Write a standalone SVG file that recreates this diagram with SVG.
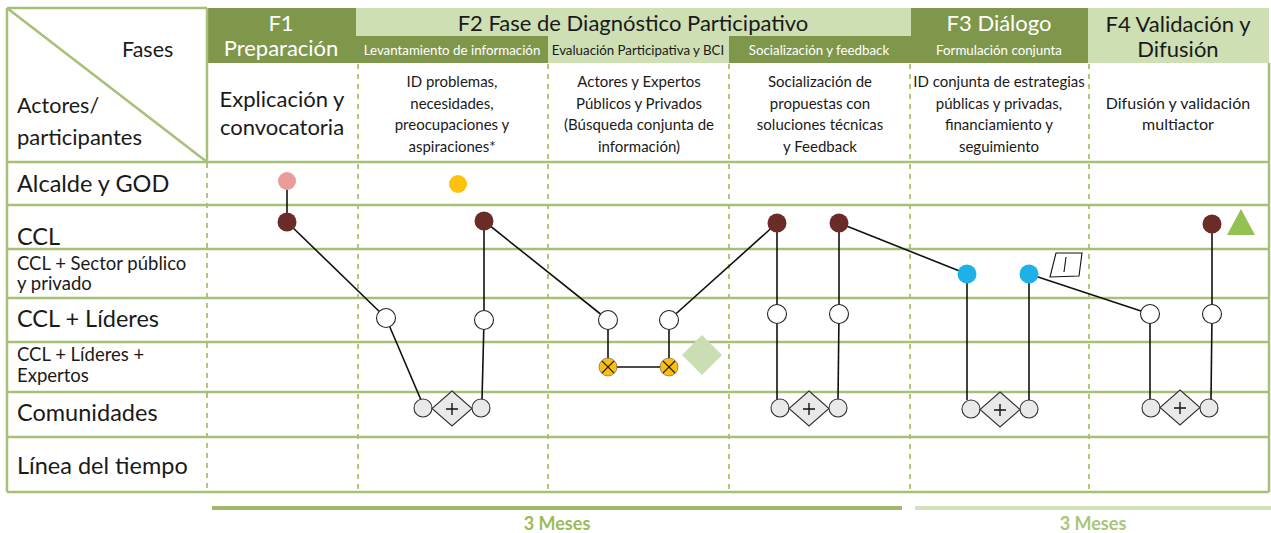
<svg xmlns="http://www.w3.org/2000/svg" width="1271" height="533" viewBox="0 0 1271 533">
<style>
text{font-family:Lato,"Open Sans","Liberation Sans",sans-serif;fill:#1a1a1a}
.grid{stroke:#a6c077;stroke-width:2.5;fill:none}
.dash{stroke:#9bbb59;stroke-width:1.6;stroke-dasharray:5 5;fill:none}
.dark{fill:#7f974b}
.light{fill:#cddfb3}
.wt{fill:#ffffff}
.ttl{font-size:22px;text-anchor:middle}
.sub{font-size:13.3px;text-anchor:middle}
.desc{font-size:15px;text-anchor:middle}
.row{font-size:23.5px}
.rows{font-size:18.5px}
.con line{stroke:#111;stroke-width:1.6}
.wc{fill:#fff;stroke:#222;stroke-width:1.1}
.gc{fill:#e9e9e9;stroke:#333;stroke-width:1.1}
.gd{fill:#e9e9e9;stroke:#333;stroke-width:1.1}
.pl{stroke:#111;stroke-width:1.4}
.dr{fill:#6b2c28}
.bl{fill:#1eb1e7}
.yc{fill:#fcbf10;stroke:#555;stroke-width:0.6}
.meses{font-size:18px;font-weight:bold;text-anchor:middle;fill:#9bbb59}
</style>

<!-- header fills -->
<g id="h-f1"><rect class="dark" x="207" y="8" width="149" height="55"/>
<text class="ttl wt" x="281" y="31">F1</text><text class="ttl wt" x="281" y="56">Preparación</text></g>
<g id="h-f2"><rect class="light" x="356" y="8" width="555" height="28"/>
<text class="ttl" x="633" y="31">F2 Fase de Diagnóstico Participativo</text></g>
<g id="h-lev"><rect class="dark" x="356" y="36" width="192" height="27"/><text class="sub wt" x="452" y="55">Levantamiento de información</text></g>
<g id="h-eval"><rect class="light" x="548" y="36" width="181" height="27"/><text class="sub" x="638" y="55">Evaluación Participativa y BCI</text></g>
<g id="h-soc"><rect class="dark" x="729" y="36" width="182" height="27"/><text class="sub wt" x="819" y="55">Socialización y feedback</text></g>
<g id="h-f3"><rect class="dark" x="911" y="8" width="177" height="55"/>
<text class="ttl wt" x="999" y="31">F3 Diálogo</text><text class="sub wt" x="999" y="55">Formulación conjunta</text></g>
<g id="h-f4"><rect class="light" x="1088" y="8" width="181" height="55"/>
<text class="ttl" x="1178" y="32">F4 Validación y</text><text class="ttl" x="1178" y="57">Difusión</text></g>

<!-- grid -->
<g id="grid">
<line class="dash" x1="358" y1="64" x2="358" y2="492"/>
<line class="dash" x1="548" y1="64" x2="548" y2="492"/>
<line class="dash" x1="729" y1="64" x2="729" y2="492"/>
<line class="dash" x1="910" y1="64" x2="910" y2="492"/>
<line class="dash" x1="1089" y1="64" x2="1089" y2="492"/>
<line class="dash" x1="207" y1="163" x2="207" y2="492"/>
<line class="grid" x1="7" y1="8" x2="207" y2="8"/>
<line class="grid" x1="207" y1="8" x2="207" y2="162"/>
<line class="grid" x1="7" y1="8" x2="207" y2="162"/>
<line class="grid" x1="7" y1="8" x2="7" y2="492"/>
<line class="grid" x1="1269" y1="63" x2="1269" y2="492"/>
<line class="grid" x1="7" y1="162" x2="1269" y2="162"/>
<line class="grid" x1="7" y1="205" x2="1269" y2="205"/>
<line class="grid" x1="7" y1="249" x2="1269" y2="249"/>
<line class="grid" x1="7" y1="298" x2="1269" y2="298"/>
<line class="grid" x1="7" y1="342" x2="1269" y2="342"/>
<line class="grid" x1="7" y1="392" x2="1269" y2="392"/>
<line class="grid" x1="7" y1="437" x2="1269" y2="437"/>
<line class="grid" x1="7" y1="492" x2="1269" y2="492"/>
</g>

<!-- corner cell -->
<g id="corner">
<text style="font-size:21.5px" x="122" y="57">Fases</text>
<text style="font-size:21.5px" x="17" y="113">Actores/</text>
<text style="font-size:22px" x="17" y="145">participantes</text>
</g>

<!-- descriptions -->
<g id="d-f1"><text class="ttl" x="282" y="107">Explicación y</text><text class="ttl" x="282" y="135">convocatoria</text></g>
<g id="d-lev"><text class="desc" x="452" y="87">ID problemas,</text><text class="desc" x="452" y="108.5">necesidades,</text><text class="desc" x="452" y="130">preocupaciones y</text><text class="desc" x="452" y="151.5">aspiraciones*</text></g>
<g id="d-eval"><text class="desc" x="639" y="87">Actores y Expertos</text><text class="desc" x="639" y="108.5">Públicos y Privados</text><text class="desc" x="639" y="130">(Búsqueda conjunta de</text><text class="desc" x="639" y="151.5">información)</text></g>
<g id="d-soc"><text class="desc" x="820" y="87">Socialización de</text><text class="desc" x="820" y="108.5">propuestas con</text><text class="desc" x="820" y="130">soluciones técnicas</text><text class="desc" x="820" y="151.5">y Feedback</text></g>
<g id="d-f3"><text class="desc" x="999" y="87">ID conjunta de estrategias</text><text class="desc" x="999" y="108.5">públicas y privadas,</text><text class="desc" x="999" y="130">financiamiento y</text><text class="desc" x="999" y="151.5">seguimiento</text></g>
<g id="d-f4"><text class="desc" style="font-size:16px" x="1178" y="108.5">Difusión y validación</text><text class="desc" style="font-size:16px" x="1178" y="130">multiactor</text></g>

<!-- row labels -->
<g id="rows">
<text class="row" x="17" y="192">Alcalde y GOD</text>
<text class="row" x="17" y="245">CCL</text>
<text class="rows" x="17" y="270">CCL + Sector público</text>
<text class="rows" x="17" y="290">y privado</text>
<text class="row" x="17" y="327">CCL + Líderes</text>
<text class="rows" x="17" y="361">CCL + Líderes +</text>
<text class="rows" x="17" y="382">Expertos</text>
<text class="row" x="17" y="421">Comunidades</text>
<text class="row" x="17" y="474">Línea del tiempo</text>
</g>

<!-- connectors -->
<g id="connectors" class="con">
<line x1="287" y1="181" x2="287" y2="222"/>
<line x1="287" y1="222" x2="386" y2="318"/>
<line x1="386" y1="318" x2="421" y2="400"/>
<line x1="484" y1="221" x2="484" y2="320"/>
<line x1="484" y1="320" x2="482" y2="400"/>
<line x1="484" y1="221" x2="608" y2="320"/>
<line x1="608" y1="320" x2="608" y2="367"/>
<line x1="608" y1="367" x2="669" y2="367"/>
<line x1="669" y1="320" x2="669" y2="367"/>
<line x1="669" y1="320" x2="777" y2="223"/>
<line x1="777" y1="223" x2="777" y2="314"/>
<line x1="777" y1="314" x2="777" y2="400"/>
<line x1="839" y1="223" x2="839" y2="314"/>
<line x1="839" y1="314" x2="838" y2="400"/>
<line x1="839" y1="223" x2="967" y2="274"/>
<line x1="967" y1="274" x2="967" y2="400"/>
<line x1="1029" y1="274" x2="1029" y2="400"/>
<line x1="1029" y1="274" x2="1150" y2="314"/>
<line x1="1150" y1="314" x2="1150" y2="400"/>
<line x1="1212" y1="224" x2="1212" y2="314"/>
<line x1="1212" y1="314" x2="1211" y2="400"/>
</g>

<!-- nodes -->
<g id="n-pink"><circle cx="287" cy="181" r="9" fill="#ec9a9a"/></g>
<g id="n-yellow"><circle cx="458" cy="184" r="9" fill="#fec20e"/></g>
<g id="n-dr1"><circle class="dr" cx="287" cy="222" r="9.5"/></g>
<g id="n-dr2"><circle class="dr" cx="484" cy="221" r="9.5"/></g>
<g id="n-dr3"><circle class="dr" cx="777" cy="223" r="9.5"/></g>
<g id="n-dr4"><circle class="dr" cx="839" cy="223" r="9.5"/></g>
<g id="n-dr5"><circle class="dr" cx="1212" cy="224" r="9.5"/></g>
<g id="n-tri"><polygon points="1241,209 1255,235 1227,235" fill="#93c152"/></g>
<g id="n-bl1"><circle class="bl" cx="967" cy="274" r="9.5"/></g>
<g id="n-bl2"><circle class="bl" cx="1029" cy="274" r="9.5"/></g>
<g id="n-note"><polygon points="1056,253 1082,253 1079,276 1050,277" fill="#fff" stroke="#111" stroke-width="1.1"/><line x1="1066" y1="257" x2="1064" y2="272" stroke="#111" stroke-width="1.1"/></g>
<g id="n-w1"><circle class="wc" cx="386" cy="318" r="9.5"/></g>
<g id="n-w2"><circle class="wc" cx="484" cy="320" r="9.5"/></g>
<g id="n-w3"><circle class="wc" cx="608" cy="320" r="9.5"/></g>
<g id="n-w4"><circle class="wc" cx="669" cy="320" r="9.5"/></g>
<g id="n-w5"><circle class="wc" cx="777" cy="314" r="9.5"/></g>
<g id="n-w6"><circle class="wc" cx="839" cy="314" r="9.5"/></g>
<g id="n-w7"><circle class="wc" cx="1150" cy="314" r="9.5"/></g>
<g id="n-w8"><circle class="wc" cx="1212" cy="314" r="9.5"/></g>
<g id="n-x1"><circle class="yc" cx="608" cy="367" r="9"/><path d="M602,361 L614,373 M614,361 L602,373" stroke="#222" stroke-width="1.1"/></g>
<g id="n-x2"><circle class="yc" cx="669" cy="367" r="9"/><path d="M663,361 L675,373 M675,361 L663,373" stroke="#222" stroke-width="1.1"/></g>
<g id="n-gdia"><polygon points="702,335 722,355 702,375 682,355" fill="#cbddb2"/></g>

<g id="n-c1"><circle class="gc" cx="423" cy="408" r="9"/><polygon class="gd" points="452,391 472,408.5 452,426 432,408.5"/><path class="pl" d="M446,409 H458 M452,403 V415"/><circle class="gc" cx="481" cy="408" r="9"/></g>
<g id="n-c2"><circle class="gc" cx="780" cy="408" r="9"/><polygon class="gd" points="809,391 829,408.5 809,426 789,408.5"/><path class="pl" d="M803,409 H815 M809,403 V415"/><circle class="gc" cx="838" cy="408" r="9"/></g>
<g id="n-c3"><circle class="gc" cx="971" cy="409" r="9"/><polygon class="gd" points="1000,392 1020,409.5 1000,427 980,409.5"/><path class="pl" d="M994,410 H1006 M1000,404 V416"/><circle class="gc" cx="1029" cy="409" r="9"/></g>
<g id="n-c4"><circle class="gc" cx="1151" cy="408" r="9"/><polygon class="gd" points="1180,390 1200,407.5 1180,425 1160,407.5"/><path class="pl" d="M1174,408 H1186 M1180,402 V414"/><circle class="gc" cx="1209" cy="408" r="9"/></g>

<!-- timeline -->
<g id="timeline">
<rect x="212" y="506" width="690" height="4" fill="#9fb86a"/>
<rect x="915" y="506" width="356" height="4" fill="#d3e2bd"/>
<text class="meses" x="557" y="530">3 Meses</text>
<text class="meses" x="1093" y="530" style="fill:#a9c57c">3 Meses</text>
</g>
</svg>
